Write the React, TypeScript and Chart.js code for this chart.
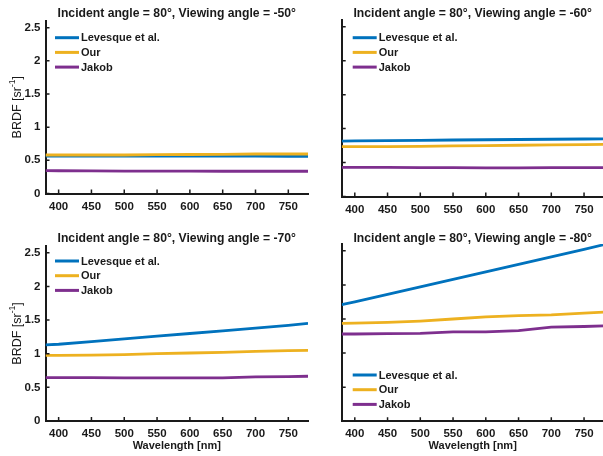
import React, { useEffect, useRef } from "react";
import { Chart, registerables } from "chart.js";

Chart.register(...registerables);

// ---- data ----
const wavelengths = [380, 400, 450, 500, 550, 600, 650, 700, 750, 780];
const seriesNames = ["Levesque et al.", "Our", "Jakob"];
const seriesColors = ["#0072BD", "#EDB120", "#7E2F8E"];
const incidentAngle = 80;
const viewingAngles = [-50, -60, -70, -80];
const xTickValues = [400, 450, 500, 550, 600, 650, 700, 750];
const yTickValues = [0, 0.5, 1, 1.5, 2, 2.5];
const xLabel = "Wavelength [nm]";

const levesque50 = [0.565, 0.565, 0.565, 0.565, 0.565, 0.565, 0.565, 0.563, 0.56, 0.56];
const our50 = [0.58, 0.58, 0.58, 0.58, 0.585, 0.588, 0.59, 0.595, 0.595, 0.595];
const jakob50 = [0.345, 0.343, 0.34, 0.338, 0.338, 0.336, 0.335, 0.335, 0.335, 0.335];

const levesque60 = [0.815, 0.818, 0.823, 0.828, 0.832, 0.836, 0.84, 0.843, 0.847, 0.85];
const our60 = [0.735, 0.735, 0.735, 0.737, 0.745, 0.75, 0.755, 0.76, 0.765, 0.767];
const jakob60 = [0.43, 0.43, 0.428, 0.425, 0.424, 0.422, 0.422, 0.425, 0.425, 0.425];

const levesque70 = [1.13, 1.14, 1.18, 1.22, 1.26, 1.3, 1.34, 1.38, 1.42, 1.45];
const our70 = [0.975, 0.975, 0.978, 0.985, 1.0, 1.01, 1.02, 1.035, 1.045, 1.05];
const jakob70 = [0.645, 0.645, 0.643, 0.64, 0.64, 0.64, 0.642, 0.655, 0.66, 0.665];

const levesque80 = [1.71, 1.75, 1.86, 1.97, 2.08, 2.19, 2.3, 2.41, 2.52, 2.59];
const our80 = [1.435, 1.44, 1.45, 1.47, 1.5, 1.53, 1.55, 1.56, 1.585, 1.6];
const jakob80 = [1.28, 1.28, 1.285, 1.29, 1.31, 1.31, 1.33, 1.38, 1.39, 1.4];

const panelSeries = [
  [levesque50, our50, jakob50],
  [levesque60, our60, jakob60],
  [levesque70, our70, jakob70],
  [levesque80, our80, jakob80],
];

// ---- layout (pixel positions of each panel) ----
const CW = 610;
const CH = 456;
const FONT = "'Liberation Sans', Arial, Helvetica, sans-serif";
const TEXT = "#1a1a1a";

const panels = [
  { area: { left: 45.5, top: 21, right: 308, bottom: 193.5 }, yLabels: true, xTitle: false, legendX: 55, legendY: 37.7, titleY: 13.5 },
  { area: { left: 341.7, top: 20, right: 603.7, bottom: 196.5 }, yLabels: false, xTitle: false, legendX: 352.7, legendY: 37.7, titleY: 13.7 },
  { area: { left: 45.5, top: 246, right: 308, bottom: 421 }, yLabels: true, xTitle: true, legendX: 55, legendY: 261, titleY: 238.3 },
  { area: { left: 341.7, top: 244, right: 603.7, bottom: 421.3 }, yLabels: false, xTitle: true, legendX: 352.7, legendY: 375, titleY: 238.3 },
];

const decorPlugin = {
  id: "panelDecor",
  afterDraw(chart: any) {
    const o = chart.options.plugins.panelDecor;
    if (!o) return;
    const ctx = chart.ctx;
    const ca = chart.chartArea;
    const xs = chart.scales.x;
    const ys = chart.scales.y;
    ctx.save();
    // inward ticks
    ctx.strokeStyle = TEXT;
    ctx.lineWidth = 1.5;
    ctx.beginPath();
    xs.ticks.forEach((t: any) => {
      const px = xs.getPixelForValue(t.value);
      ctx.moveTo(px, ca.bottom);
      ctx.lineTo(px, ca.bottom - 4);
    });
    ys.ticks.forEach((t: any) => {
      const py = ys.getPixelForValue(t.value);
      ctx.moveTo(ca.left, py);
      ctx.lineTo(ca.left + 4, py);
    });
    ctx.stroke();

    // title
    ctx.fillStyle = TEXT;
    ctx.font = `bold 12.2px ${FONT}`;
    ctx.textAlign = "center";
    ctx.textBaseline = "middle";
    ctx.fillText(o.title, (ca.left + ca.right) / 2, o.titleY);

    // legend
    ctx.font = `bold 11px ${FONT}`;
    ctx.textAlign = "left";
    chart.data.datasets.forEach((ds: any, i: number) => {
      const y = o.legendY + i * 14.7;
      ctx.strokeStyle = ds.borderColor;
      ctx.lineWidth = 3;
      ctx.beginPath();
      ctx.moveTo(o.legendX, y);
      ctx.lineTo(o.legendX + 24, y);
      ctx.stroke();
      ctx.fillStyle = TEXT;
      ctx.fillText(ds.label, o.legendX + 26, y + 0.5);
    });

    // x axis title
    if (o.xTitle) {
      ctx.font = `bold 11px ${FONT}`;
      ctx.textAlign = "center";
      ctx.fillText(xLabel, (ca.left + ca.right) / 2, ca.bottom + 25);
    }

    // y axis title with superscript
    if (o.yTitle) {
      const cy = (ca.top + ca.bottom) / 2;
      ctx.translate(17.5, cy);
      ctx.rotate(-Math.PI / 2);
      ctx.textAlign = "left";
      ctx.textBaseline = "middle";
      const main1 = "BRDF [sr";
      const sup = "-1";
      const main2 = "]";
      ctx.font = `12.5px ${FONT}`;
      const w1 = ctx.measureText(main1).width;
      const w2 = ctx.measureText(main2).width;
      ctx.font = `8.5px ${FONT}`;
      const ws = ctx.measureText(sup).width;
      const x0 = -(w1 + ws + w2) / 2;
      ctx.font = `12.5px ${FONT}`;
      ctx.fillText(main1, x0, 0);
      ctx.fillText(main2, x0 + w1 + ws, 0);
      ctx.font = `8.5px ${FONT}`;
      ctx.fillText(sup, x0 + w1, -4.5);
    }
    ctx.restore();
  },
};

function makeConfig(p: any, idx: number) {
  const series = panelSeries[idx];
  const drawOrder = [1, 0, 2];
  const datasets = seriesNames.map((name, i) => ({
    label: name,
    data: wavelengths.map((w, k) => ({ x: w, y: series[i][k] })),
    borderColor: seriesColors[i],
    backgroundColor: seriesColors[i],
    borderWidth: 2.8,
    pointRadius: 0,
    tension: 0,
    order: drawOrder[i],
  }));
  const tickFont = { family: FONT, size: 11.5, weight: "bold" as const };
  return {
    type: "line" as const,
    data: { datasets },
    plugins: [decorPlugin],
    options: {
      animation: false,
      responsive: false,
      devicePixelRatio: 1,
      layout: { padding: { left: 0, top: p.area.top, right: CW - p.area.right, bottom: 0 } },
      plugins: {
        legend: { display: false },
        title: { display: false },
        tooltip: { enabled: false },
        panelDecor: {
          title: `Incident angle = ${incidentAngle}°, Viewing angle = ${viewingAngles[idx]}°`,
          titleY: p.titleY,
          legendX: p.legendX,
          legendY: p.legendY,
          xTitle: p.xTitle,
          yTitle: p.yLabels,
        },
      },
      scales: {
        x: {
          type: "linear",
          min: 380,
          max: 780,
          afterBuildTicks: (s: any) => {
            s.ticks = xTickValues.map((v) => ({ value: v }));
          },
          afterFit: (s: any) => {
            s.height = CH - p.area.bottom;
          },
          ticks: { font: tickFont, color: TEXT, padding: 6, maxRotation: 0, autoSkip: false, callback: (v: any) => String(v) },
          grid: { display: false, drawTicks: false },
          border: { display: true, color: TEXT, width: 2 },
        },
        y: {
          type: "linear",
          min: 0,
          max: 2.6,
          afterBuildTicks: (s: any) => {
            s.ticks = yTickValues.map((v) => ({ value: v }));
          },
          afterFit: (s: any) => {
            s.width = p.area.left;
          },
          ticks: {
            font: tickFont,
            color: TEXT,
            padding: 5,
            autoSkip: false,
            callback: (v: any) => (p.yLabels ? String(v) : ""),
          },
          grid: { display: false, drawTicks: false },
          border: { display: true, color: TEXT, width: 2 },
        },
      },
    },
  };
}

function Panel({ idx }: { idx: number }) {
  const ref = useRef<HTMLCanvasElement>(null);
  useEffect(() => {
    if (!ref.current) return;
    const chart = new Chart(ref.current, makeConfig(panels[idx], idx) as any);
    return () => chart.destroy();
  }, [idx]);
  return (
    <canvas
      ref={ref}
      width={CW}
      height={CH}
      style={{ position: "absolute", left: 0, top: 0, width: CW, height: CH }}
    />
  );
}

export default function App() {
  return (
    <div
      style={{
        position: "fixed",
        left: 0,
        top: 0,
        width: 603,
        height: 456,
        overflow: "hidden",
        background: "#ffffff",
      }}
    >
      {panels.map((_, i) => (
        <Panel key={i} idx={i} />
      ))}
    </div>
  );
}
